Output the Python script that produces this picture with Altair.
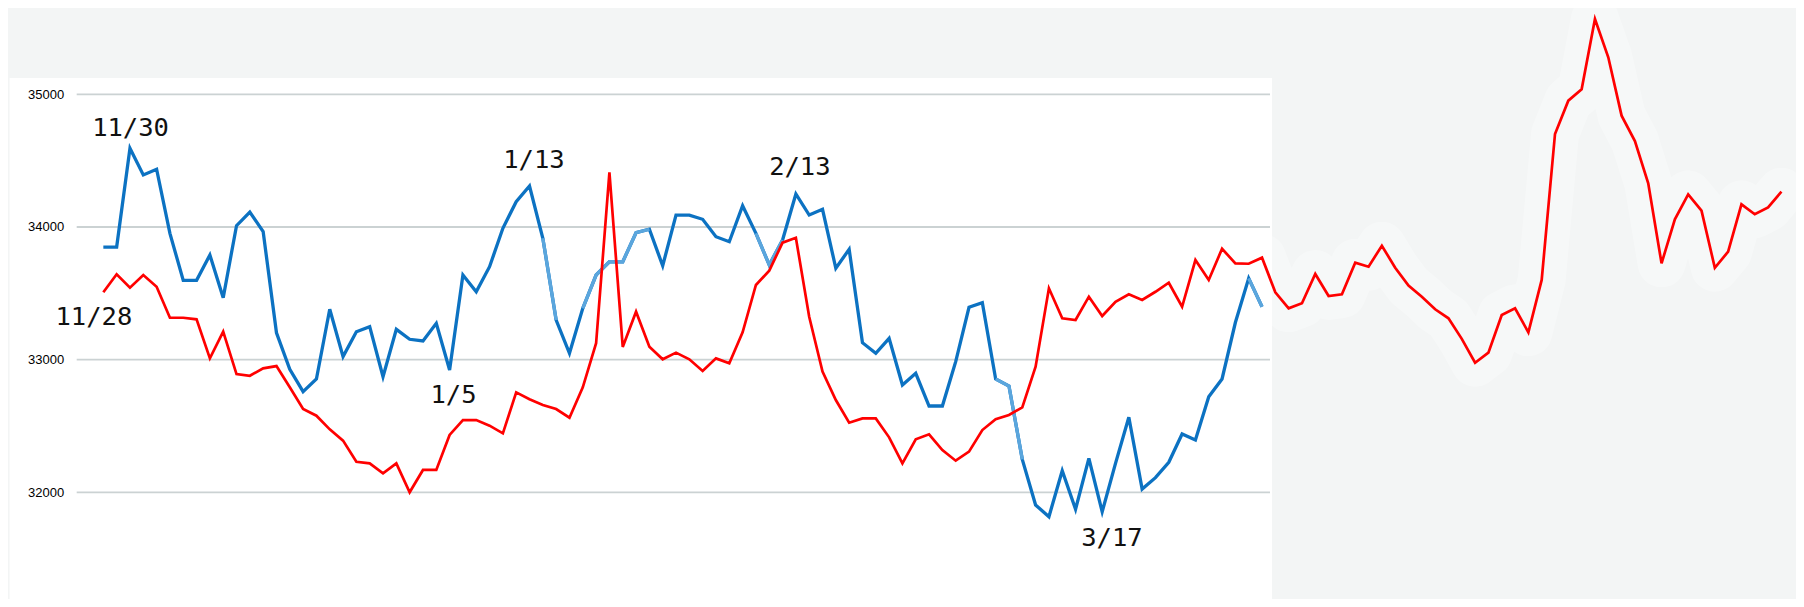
import altair as alt
import pandas as pd

# ---- data ----
blue_values = [
    33849, 33849, 34593, 34392, 34435, 33952, 33598, 33598, 33789, 33467,
    34010, 34113, 33965, 33203, 32928, 32759, 32855, 33380, 33023, 33211,
    33249, 32872, 33229, 33154, 33141, 33274, 32922, 33638, 33512, 33701,
    33990, 34191, 34309, 33915, 33299, 33048, 33387, 33638, 33738, 33738,
    33957, 33983, 33708, 34090, 34090, 34058, 33927, 33889, 34160, 33952,
    33714, 33902, 34249, 34090, 34133, 33689, 33832, 33128, 33048, 33161,
    32809, 32897, 32651, 32651, 32985, 33395, 33430, 32855, 32802, 32249,
    31905, 31817, 32163, 31873, 32257, 31854, 32219, 32566, 32025, 32111,
    32227, 32440, 32395, 32721, 32855, 33280, 33613, 33399,
]
red_values = [
    33508, 33644, 33543, 33638, 33550, 33316, 33316, 33304, 33010, 33211,
    32892, 32879, 32935, 32952, 32792, 32628, 32578, 32475, 32390, 32231,
    32219, 32144, 32219, 32001, 32169, 32169, 32433, 32545, 32545, 32503,
    32445, 32754, 32702, 32659, 32628, 32563, 32792, 33124, 34412, 33096,
    33362, 33098, 33003, 33053, 33003, 32915, 33010, 32973, 33206, 33563,
    33671, 33882, 33919, 33324, 32910, 32696, 32525, 32558, 32558, 32415,
    32219, 32400, 32438, 32319, 32239, 32307, 32470, 32551, 32583, 32641,
    32947, 33538, 33312, 33299, 33475, 33329, 33437, 33493, 33450, 33512,
    33580, 33399, 33751, 33601, 33836, 33726, 33723, 33769, 33508, 33387,
    33425, 33646, 33480, 33493, 33731, 33701, 33859, 33693, 33558, 33475,
    33380, 33312, 33157, 32977, 33053, 33337, 33387, 33206, 33601, 34701,
    34952, 35038, 35567, 35279, 34839, 34648, 34329, 33726, 34058, 34246,
    34123, 33693, 33814, 34171, 34096, 34148, 34266,
]
# index ranges of the blue line drawn in a lighter blue
blue_light_ranges = [(33, 34), (36, 41), (49, 51), (67, 69), (86, 87)]
grid_values = [32000, 33000, 34000, 35000]
ann_labels = ["11/30", "11/28", "1/13", "1/5", "2/13", "3/17"]
ann_x = [2.04, -0.71, 32.33, 26.29, 52.3, 75.73]
ann_y = [34686, 33261, 34442, 32676, 34392, 31596]
halo_start = 86

# ---- tables ----
blue_df = pd.DataFrame({"i": list(range(len(blue_values))), "v": blue_values})
red_df = pd.DataFrame({"i": list(range(len(red_values))), "v": red_values})
light_rows = []
for k, (a, b) in enumerate(blue_light_ranges):
    for i in range(a, b + 1):
        light_rows.append({"i": i, "v": blue_values[i], "seg": k})
light_df = pd.DataFrame(light_rows)
halo_df = red_df[red_df["i"] >= halo_start]
grid_df = pd.DataFrame({"v": grid_values})
ann_df = pd.DataFrame({"label": ann_labels, "i": ann_x, "v": ann_y})
panel_df = pd.DataFrame({"a": [0]})

W = 1193.3
H = 591

x_scale = alt.Scale(domain=[-2.0, 87.6], nice=False, zero=False)
y_scale = alt.Scale(domain=[31196.7, 35650.3], nice=False, zero=False)
y_axis = alt.Axis(values=grid_values, format="d", grid=False, domain=False,
                  ticks=False, tickSize=0, labelPadding=13,
                  labelFont="Liberation Sans", labelFontSize=13,
                  labelColor="#000000", title="", zindex=1)

def xe():
    return alt.X("i:Q", scale=x_scale, axis=None)

def ye():
    return alt.Y("v:Q", scale=y_scale, axis=y_axis)

panel = alt.Chart(panel_df).mark_rect(color="#ffffff").encode(
    x=alt.value(-67.1), x2=alt.value(1195.3), y=alt.value(70), y2=alt.value(H)
)

halo = alt.Chart(halo_df).mark_line(
    color="#ffffff", opacity=0.3, strokeWidth=48, strokeCap="round", strokeJoin="round"
).encode(x=xe(), y=ye())

grid = alt.Chart(grid_df).mark_rule(color="#cbd2d3", strokeWidth=1.8).encode(
    y=ye(), x=alt.value(0), x2=alt.value(W)
)

blue = alt.Chart(blue_df).mark_line(color="#0c72c2", strokeWidth=3.3).encode(x=xe(), y=ye())
blue_light = alt.Chart(light_df).mark_line(color="#5ba6dd", strokeWidth=3.3).encode(
    x=xe(), y=ye(), detail="seg:N"
)
red = alt.Chart(red_df).mark_line(color="#ff0000", strokeWidth=2.7).encode(x=xe(), y=ye())

ann = alt.Chart(ann_df).mark_text(
    font="DejaVu Sans Mono", fontSize=25.5, color="#111111", align="center", baseline="alphabetic"
).encode(x=xe(), y=ye(), text="label:N")

chart = alt.layer(panel, halo, grid, blue, blue_light, red, ann).properties(
    width=W,
    height=H,
    autosize=alt.AutoSizeParams(type="none"),
    padding={"left": 68.7, "top": 0, "right": 526, "bottom": 0},
    background="#f3f5f5",
).configure_view(strokeWidth=0)

chart.save("out.html", embed_options={"renderer": "svg", "actions": False})
